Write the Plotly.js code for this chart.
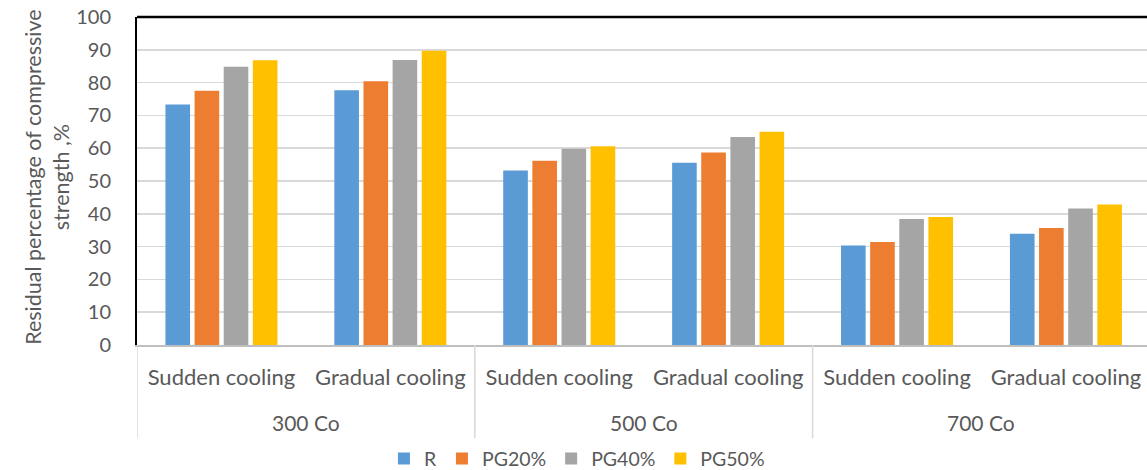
<!DOCTYPE html>
<html>
<head>
<meta charset="utf-8">
<script src="https://cdn.plot.ly/plotly-3.0.1.min.js"></script>
<style>
  html, body { margin: 0; padding: 0; background: #ffffff; overflow: hidden; }
  #chart { width: 1147px; height: 470px; }
</style>
</head>
<body>
<div id="chart"></div>
<script>
// Temperature groups and cooling regimes (two-level category labels)
const temperatures = ["300 Co", "500 Co", "700 Co"];
const coolingModes = ["Sudden cooling", "Gradual cooling"];

// Residual compressive strength, %, in order:
// 300 sudden, 300 gradual, 500 sudden, 500 gradual, 700 sudden, 700 gradual
const seriesNames = ["R", "PG20%", "PG40%", "PG50%"];
const valuesR     = [73.3, 77.7, 53.2, 55.6, 30.3, 33.9];
const valuesPG20  = [77.5, 80.4, 56.2, 58.7, 31.4, 35.7];
const valuesPG40  = [84.8, 86.9, 59.8, 63.4, 38.4, 41.6];
const valuesPG50  = [86.8, 89.7, 60.6, 65.0, 39.0, 42.8];
const seriesColors = ["#5B9BD5", "#ED7D31", "#A5A5A5", "#FFC000"];

// One slot per (temperature, cooling) pair on the x axis
const slotIndex = [];
const innerLabels = [];
temperatures.forEach((t, ti) => coolingModes.forEach((c, ci) => {
  slotIndex.push(ti * coolingModes.length + ci);
  innerLabels.push(c);
}));
const perGroup = coolingModes.length;

const allValues = [valuesR, valuesPG20, valuesPG40, valuesPG50];
const traces = allValues.map((vals, i) => ({
  type: "bar",
  name: seriesNames[i],
  x: slotIndex,
  y: vals,
  marker: { color: seriesColors[i], line: { width: 0 } },
  hoverinfo: "y+name"
}));

const fontFamily = "Lato, 'Open Sans', sans-serif";
const textColor = "#595959";
const dividerColor = "#d9d9d9";

// Group separators below the axis, and temperature labels centred under each pair
const shapes = [
  { type: "line", xref: "paper", yref: "paper", x0: 0, x1: 1, y0: 1, y1: 1,
    line: { color: "#000000", width: 2.5 } }
];
for (let g = 0; g <= temperatures.length; g++) {
  const xb = g * perGroup - 0.5;
  shapes.push({ type: "line", xref: "x", yref: "paper", x0: xb, x1: xb, y0: 0, y1: -0.284,
    line: { color: dividerColor, width: 1.5 } });
}
const annotations = temperatures.map((t, g) => ({
  xref: "x", yref: "paper",
  x: g * perGroup + (perGroup - 1) / 2, y: -0.236,
  xanchor: "center", yanchor: "middle",
  text: t, showarrow: false,
  font: { size: 21, color: textColor }
}));
annotations.push({
  xref: "paper", yref: "paper", x: -0.089, y: 0.51, xanchor: "center", yanchor: "middle",
  textangle: -90, showarrow: false,
  text: "Residual percentage of compressive<br>strength ,%",
  font: { size: 21.5, color: textColor }
});

const layout = {
  width: 1147,
  height: 470,
  margin: { l: 137, r: 0, t: 17, b: 125 },
  paper_bgcolor: "#ffffff",
  plot_bgcolor: "#ffffff",
  font: { family: fontFamily, color: textColor, size: 20 },
  barmode: "group",
  bargap: 0.31,
  bargroupgap: 0.155,
  showlegend: true,
  legend: {
    orientation: "h",
    xref: "container", yref: "container",
    x: 0.503, xanchor: "center",
    y: 0.024, yanchor: "middle",
    font: { size: 19.5, color: textColor },
    itemwidth: 30
  },
  xaxis: {
    range: [-0.5, 5.48],
    tickmode: "array",
    tickvals: slotIndex,
    ticktext: innerLabels,
    showline: true,
    linecolor: "#bfbfbf",
    linewidth: 1.5,
    ticks: "",
    ticklabelstandoff: 12,
    showgrid: false,
    zeroline: false,
    tickfont: { size: 22, color: textColor },
    fixedrange: true
  },
  yaxis: {
    range: [0, 100],
    dtick: 10,
    showline: true,
    linecolor: "#000000",
    linewidth: 2,
    showgrid: true,
    gridcolor: dividerColor,
    gridwidth: 1.5,
    zeroline: false,
    ticks: "",
    ticklabelstandoff: 20,
    tickfont: { size: 20, color: textColor },
    fixedrange: true
  },
  shapes: shapes,
  annotations: annotations
};

Plotly.newPlot("chart", traces, layout, { displayModeBar: false, staticPlot: true });
</script>
</body>
</html>
